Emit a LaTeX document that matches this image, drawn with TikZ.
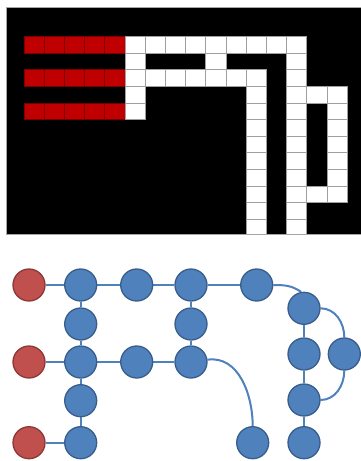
\documentclass[tikz,border=0pt]{standalone}
\usetikzlibrary{backgrounds}
\definecolor{bfill}{RGB}{79,129,189}
\definecolor{bborder}{RGB}{56,93,138}
\definecolor{nfill}{RGB}{192,80,77}
\definecolor{nborder}{RGB}{140,56,54}
\definecolor{cellred}{RGB}{192,0,0}
\definecolor{cellredb}{RGB}{120,0,0}
\newcommand\gcell[3]{\draw[#3] ({24+20.2*#1},{36.7+16.6*#2}) rectangle ++(20.2,16.6);}
\begin{document}
\begin{tikzpicture}[x=1pt,y=-1pt,
  wcell/.style={fill=white,draw=gray!75,line width=0.9pt},
  rcell/.style={fill=cellred,draw=cellredb,line width=0.9pt},
  bnode/.style={circle,minimum size=32pt,inner sep=0pt,fill=bfill,draw=bborder,line width=1.3pt},
  rnode/.style={circle,minimum size=32pt,inner sep=0pt,fill=nfill,draw=nborder,line width=1.3pt},
  link/.style={draw=bfill,line width=2pt}]
\useasboundingbox (0,0) rectangle (361,461);
% grid panel
\begin{scope}
\clip (6.5,7.5) rectangle (361,234);
\fill[black] (6.5,7.5) rectangle (361,234);
\foreach \r in {0,2,4}{\foreach \c in {0,...,4}{\gcell{\c}{\r}{rcell}}}
\foreach \c in {5,...,13}{\gcell{\c}{0}{wcell}}
\foreach \c in {5,9,13}{\gcell{\c}{1}{wcell}}
\foreach \c in {5,...,11,13}{\gcell{\c}{2}{wcell}}
\foreach \c in {5,11,13,14,15}{\gcell{\c}{3}{wcell}}
\foreach \c in {5,11,13,15}{\gcell{\c}{4}{wcell}}
\foreach \r in {5,...,8}{\foreach \c in {11,13,15}{\gcell{\c}{\r}{wcell}}}
\foreach \c in {11,13,14,15}{\gcell{\c}{9}{wcell}}
\foreach \r in {10,11}{\foreach \c in {11,13}{\gcell{\c}{\r}{wcell}}}
\end{scope}
\draw[gray!70,line width=0.8pt] (361,7.5) -- (6.5,7.5) -- (6.5,234) -- (361,234);
% graph nodes
\node[rnode] (r1) at (29,285) {};
\node[rnode] (r3) at (29,362) {};
\node[rnode] (r5) at (29,442.7) {};
\node[bnode] (a1) at (80.7,285) {};
\node[bnode] (a2) at (80.7,324) {};
\node[bnode] (a3) at (80.7,362) {};
\node[bnode] (a4) at (80.7,400.7) {};
\node[bnode] (a5) at (80.7,442.7) {};
\node[bnode] (b1) at (136.7,285) {};
\node[bnode] (b3) at (136.7,362) {};
\node[bnode] (c1) at (191,285) {};
\node[bnode] (c2) at (191,324) {};
\node[bnode] (c3) at (191,362) {};
\node[bnode] (d1) at (256.7,285) {};
\node[bnode] (e1) at (304,308.3) {};
\node[bnode] (e3) at (304,354) {};
\node[bnode] (e4) at (304,400) {};
\node[bnode] (e5) at (304,442.7) {};
\node[bnode] (g3) at (344.3,354) {};
\node[bnode] (f5) at (252.7,442.7) {};
\begin{scope}[on background layer]
\fill[white] (0,0) rectangle (361,461);
\draw[link] (r1) -- (a1);
\draw[link] (a1) -- (b1);
\draw[link] (b1) -- (c1);
\draw[link] (c1) -- (d1);
\draw[link] (d1.east) to[out=0,in=145] (e1.100);
\draw[link] (a1) -- (a2);
\draw[link] (a2) -- (a3);
\draw[link] (a3) -- (a4);
\draw[link] (a4) -- (a5);
\draw[link] (r3) -- (a3);
\draw[link] (a3) -- (b3);
\draw[link] (b3) -- (c3);
\draw[link] (c1) -- (c2);
\draw[link] (c2) -- (c3);
\draw[link] (r5) -- (a5);
\draw[link] (c3) to[out=8,in=90] (f5);
\draw[link] (e1) -- (e3);
\draw[link] (e3) -- (e4);
\draw[link] (e4) -- (e5);
\draw[link] (e1) to[out=0,in=90] (g3);
\draw[link] (g3) to[out=-90,in=0] (e4);
\end{scope}
\end{tikzpicture}
\end{document}
